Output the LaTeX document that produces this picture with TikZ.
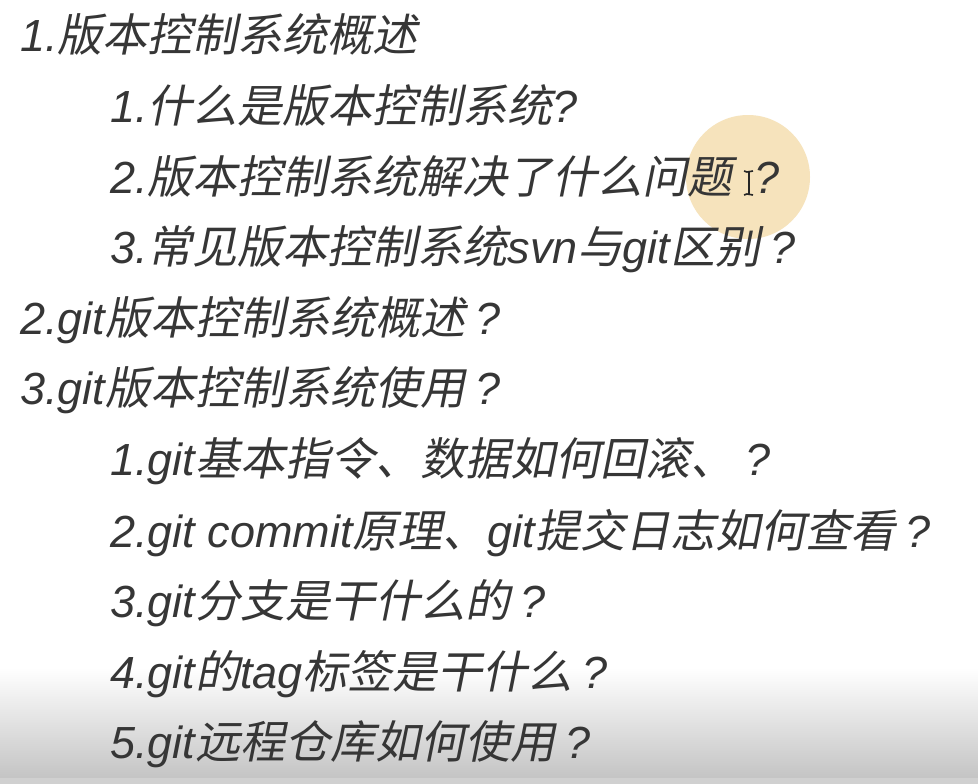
\documentclass[tikz,border=0pt]{standalone}
\usepackage{fontspec}
\setmainfont{Noto Sans CJK SC}[FakeSlant=0.2]
\newfontfamily\cjk{Noto Sans CJK SC}[FakeSlant=0.2]
\newfontfamily\latn{Liberation Sans}
\newcommand\la[1]{{\latn\itshape #1}}
\newcommand\fq{\makebox[1em][c]{\la{?}}}
\begin{document}
\begin{tikzpicture}[x=1pt,y=-1pt,
  txt/.style={anchor=base west,inner sep=0pt,text=textgray,font=\fontsize{45}{45}\selectfont\cjk},
  lvlzero/.style={txt},
  lvlone/.style={txt}]
\definecolor{textgray}{HTML}{363636}
\definecolor{halo}{HTML}{F6E3BC}
\definecolor{fadegray}{HTML}{C4C4C4}
\definecolor{bargray}{HTML}{D0D0D0}
\useasboundingbox (0,0) rectangle (978,784);
\fill[white] (0,0) rectangle (978,784);
% bottom fade
\shade[top color=white,bottom color=fadegray] (0,668) rectangle (978,778);
\fill[bargray] (0,778) rectangle (978,784);
% cursor highlight
\fill[halo] (748,177) circle (62);
% outline
\node[lvlzero] (l1) at (20,52) {\la{1.}版本控制系统概述};
\node[lvlone]  (l2) at (110,122) {\la{1.}什么是版本控制系统\la{?}};
\node[lvlone]  (l3) at (110,193) {\la{2.}版本控制系统解决了什么问题\hspace{22pt}\la{?}};
\node[lvlone]  (l4) at (110,263) {\la{3.}常见版本控制系统\la{svn}与\la{git}区别\fq};
\node[lvlzero] (l5) at (20,334) {\la{2.git}版本控制系统概述\fq};
\node[lvlzero] (l6) at (20,404) {\la{3.git}版本控制系统使用\fq};
\node[lvlone]  (l7) at (110,475) {\la{1.git}基本指令、数据如何回滚、\fq};
\node[lvlone]  (l8) at (110,547) {\la{2.git commit}原理、\la{git}提交日志如何查看\fq};
\node[lvlone]  (l9) at (110,617) {\la{3.git}分支是干什么的\fq};
\node[lvlone]  (l10) at (110,688) {\la{4.git}的\la{tag}标签是干什么\fq};
\node[lvlone]  (l11) at (110,758) {\la{5.git}远程仓库如何使用\fq};
% I-beam cursor
\draw[black!85,line width=1.6pt] (749,172) -- (749,194)
  (744,171) -- (747,172) -- (753,171)
  (744,195) -- (747,194) -- (753,195);
\end{tikzpicture}
\end{document}
